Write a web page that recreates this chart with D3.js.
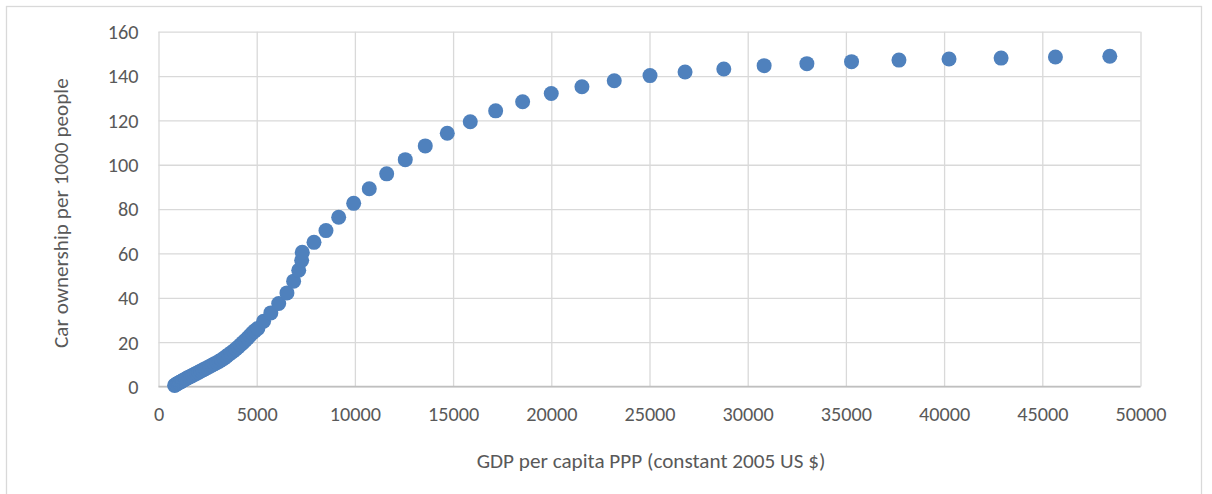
<!DOCTYPE html>
<html>
<head>
<meta charset="utf-8">
<script src="https://cdn.jsdelivr.net/npm/d3@7"></script>
<style>
  html, body { margin: 0; padding: 0; background: #ffffff; }
  svg { display: block; }
  text { font-family: Calibri, Carlito, "Open Sans", sans-serif; fill: #595959; }
</style>
</head>
<body>
<svg id="chart" width="1212" height="494"></svg>
<script>
// GDP per capita PPP (constant 2005 US $)
const gdp = [
  820, 870, 920, 980, 1040, 1100, 1170, 1240, 1320, 1400,
  1480, 1570, 1660, 1750, 1850, 1950, 2050, 2160, 2270, 2380,
  2500, 2620, 2740, 2860, 2980, 3100, 3220, 3340, 3460, 3580,
  3700, 3820, 3940, 4060, 4180, 4300, 4420, 4540, 4660, 4780,
  4900, 5060, 5350, 5720, 6120, 6540, 6880, 7140, 7290, 7320,
  7917, 8527, 9174, 9938, 10732, 11618, 12565, 13583, 14703, 15874,
  17167, 18541, 19998, 21560, 23205, 25026, 26810, 28783, 30837, 33013,
  35287, 37702, 40251, 42902, 45669, 48437
];
// Car ownership per 1000 people
const cars = [
  0.5, 0.8, 1.1, 1.4, 1.7, 2.0, 2.3, 2.7, 3.1, 3.5,
  3.9, 4.3, 4.7, 5.1, 5.6, 6.0, 6.5, 7.0, 7.5, 8.0,
  8.6, 9.1, 9.7, 10.3, 10.8, 11.4, 12.1, 12.8, 13.6, 14.4,
  15.2, 16.0, 16.9, 17.8, 18.8, 19.8, 20.8, 21.9, 23.0, 24.1,
  25.1, 26.2, 29.4, 33.2, 37.4, 42.2, 47.5, 52.4, 56.9, 60.5,
  65.0, 70.3, 76.3, 82.6, 89.2, 95.9, 102.3, 108.5, 114.2, 119.4,
  124.3, 128.4, 132.1, 135.2, 137.9, 140.2, 141.8, 143.2, 144.7, 145.6,
  146.5, 147.2, 147.7, 148.1, 148.6, 148.9
];
const xTicks = [0, 5000, 10000, 15000, 20000, 25000, 30000, 35000, 40000, 45000, 50000];
const yTicks = [0, 20, 40, 60, 80, 100, 120, 140, 160];
const xTitle = "GDP per capita PPP (constant 2005 US $)";
const yTitle = "Car ownership per 1000 people";

const svg = d3.select("#chart");
const W = 1212, H = 494;
const plot = { left: 158.5, right: 1140.5, top: 31.7, bottom: 386.5 };
const tickFont = 20.2, titleFont = 21.2;

// outer chart frame
svg.append("rect")
  .attr("x", 6.5).attr("y", 6.5)
  .attr("width", 1195).attr("height", H)
  .attr("fill", "#ffffff")
  .attr("stroke", "#d9d9d9").attr("stroke-width", 1.3);

const x = d3.scaleLinear().domain([0, 50000]).range([plot.left, plot.right]);
const y = d3.scaleLinear().domain([0, 160]).range([plot.bottom, plot.top]);

// vertical gridlines
const gx = svg.append("g")
  .attr("transform", `translate(0,${plot.bottom})`)
  .call(d3.axisBottom(x).tickValues(xTicks).tickSize(-(plot.bottom - plot.top)).tickFormat(""));
gx.select(".domain").remove();
gx.selectAll("line").attr("stroke", "#d9d9d9").attr("stroke-width", 1.3);

// horizontal gridlines
const gy = svg.append("g")
  .attr("transform", `translate(${plot.left},0)`)
  .call(d3.axisLeft(y).tickValues(yTicks).tickSize(-(plot.right - plot.left)).tickFormat(""));
gy.select(".domain").remove();
gy.selectAll("line").attr("stroke", "#d9d9d9").attr("stroke-width", 1.3);

// x axis baseline
svg.append("line")
  .attr("x1", plot.left).attr("x2", plot.right)
  .attr("y1", y(0)).attr("y2", y(0))
  .attr("stroke", "#bfbfbf").attr("stroke-width", 1.3);

// tick labels
const xAx = svg.append("g")
  .attr("transform", `translate(0,${plot.bottom})`)
  .call(d3.axisBottom(x).tickValues(xTicks).tickSize(0).tickPadding(0).tickFormat(d3.format("d")));
xAx.select(".domain").remove();
xAx.selectAll("text")
  .attr("y", 34).attr("dy", null)
  .attr("font-size", tickFont).style("font-family", null);

const yAx = svg.append("g")
  .attr("transform", `translate(${plot.left},0)`)
  .call(d3.axisLeft(y).tickValues(yTicks).tickSize(0).tickPadding(0).tickFormat(d3.format("d")));
yAx.select(".domain").remove();
yAx.selectAll("text")
  .attr("x", -20).attr("dy", "0.34em")
  .attr("font-size", tickFont).style("font-family", null);

// axis titles
svg.append("text")
  .attr("x", (plot.left + plot.right) / 2 + 1.5)
  .attr("y", 468)
  .attr("text-anchor", "middle")
  .attr("font-size", titleFont)
  .text(xTitle);

svg.append("text")
  .attr("transform", `translate(68,${(plot.top + plot.bottom) / 2 + 4}) rotate(-90)`)
  .attr("text-anchor", "middle")
  .attr("font-size", titleFont)
  .text(yTitle);

// data points
const pts = gdp.map((g, i) => ({ g, c: cars[i] }));
svg.append("g")
  .selectAll("circle")
  .data(pts)
  .join("circle")
  .attr("cx", d => x(d.g))
  .attr("cy", d => y(d.c))
  .attr("r", 7.5)
  .attr("fill", "#4f81bd");
</script>
</body>
</html>
